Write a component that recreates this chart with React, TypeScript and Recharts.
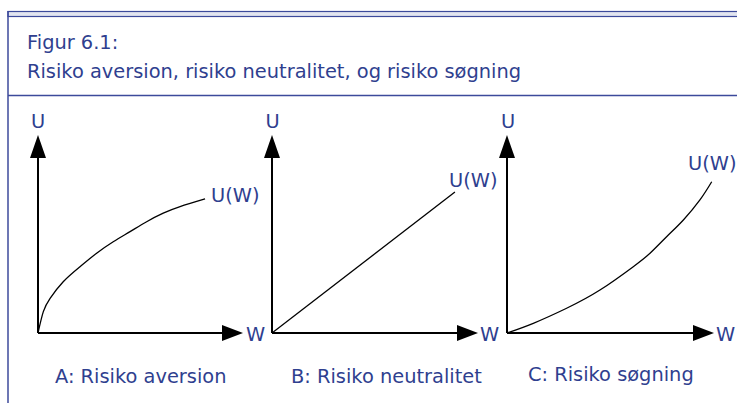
import { LineChart, Line, XAxis, YAxis, ReferenceDot, ReferenceLine } from 'recharts';

// points (W on the x axis, U on the y axis, 0..10 each)
const aversionW = [0, 0.26, 0.59, 1.23, 2.05, 2.86, 3.67, 4.49, 5.3, 6.11, 6.93, 8.15];
const aversionU = [0, 1.08, 1.75, 2.59, 3.35, 4.03, 4.61, 5.12, 5.62, 6.05, 6.38, 6.77];

const neutralW = [0, 8.88];
const neutralU = [0, 7.12];

const seekingW = [0, 1.27, 2.88, 4.49, 6.1, 6.91, 7.71, 8.52, 9.32, 9.89];
const seekingU = [0, 0.49, 1.25, 2.17, 3.35, 4.03, 4.86, 5.71, 6.72, 7.64];

const captions = ['A: Risiko aversion', 'B: Risiko neutralitet', 'C: Risiko søgning'];
const title = ['Figur 6.1:', 'Risiko aversion, risiko neutralitet, og risiko søgning'];

const BLUE = '#2f3f8f';
const BORDER = '#3c4a9b';
const FONT = '"DejaVu Sans", Verdana, sans-serif';

const toRows = (w: number[], u: number[]) => w.map((x, i) => ({ w: x, u: u[i] }));

const RightArrow = (props: any) => {
  const { cx, cy } = props;
  return <path d={`M${cx},${cy} L${cx - 21},${cy - 8} L${cx - 21},${cy + 8} Z`} fill="#000" />;
};

const UpArrow = (props: any) => {
  const { cx, cy } = props;
  return <path d={`M${cx},${cy} L${cx - 8},${cy + 23} L${cx + 8},${cy + 23} Z`} fill="#000" />;
};

interface PanelProps {
  w: number[];
  u: number[];
  left: number;
  marginLeft: number;
  marginRight: number;
  curve: 'natural' | 'linear';
}

function Panel({ w, u, left, marginLeft, marginRight, curve }: PanelProps) {
  return (
    <div style={{ position: 'absolute', left, top: 100 }}>
      <LineChart
        width={260}
        height={250}
        data={toRows(w, u)}
        margin={{ top: 35, left: marginLeft, right: marginRight, bottom: 17 }}
      >
        <XAxis dataKey="w" type="number" domain={[0, 10]} hide />
        <YAxis type="number" domain={[0, 10]} hide />
        <ReferenceLine
          segment={[{ x: 0, y: 0 }, { x: 9, y: 0 }]}
          stroke="#000"
          strokeWidth={2}
          ifOverflow="visible"
        />
        <ReferenceLine
          segment={[{ x: 0, y: 0 }, { x: 0, y: 9 }]}
          stroke="#000"
          strokeWidth={2}
          ifOverflow="visible"
        />
        <Line
          type={curve}
          dataKey="u"
          stroke="#000"
          strokeWidth={1.3}
          dot={false}
          isAnimationActive={false}
        />
        <ReferenceDot x={10} y={0} ifOverflow="visible" shape={RightArrow} />
        <ReferenceDot x={0} y={10} ifOverflow="visible" shape={UpArrow} />
      </LineChart>
    </div>
  );
}

export default function App() {
  const txt = { fill: BLUE, fontFamily: FONT, fontSize: 19.4 };
  return (
    <div style={{ position: 'absolute', left: 0, top: 0, width: 737, height: 403, background: '#fff', overflow: 'hidden' }}>
      <Panel w={aversionW} u={aversionU} left={0} marginLeft={38} marginRight={17} curve="natural" />
      <Panel w={neutralW} u={neutralU} left={235} marginLeft={37} marginRight={17} curve="linear" />
      <Panel w={seekingW} u={seekingU} left={470} marginLeft={37} marginRight={16} curve="natural" />

      <svg width={737} height={403} style={{ position: 'absolute', left: 0, top: 0, pointerEvents: 'none' }}>
        {/* frame */}
        <rect x={8} y={11.5} width={740} height={5} fill="#e2e5f0" stroke={BORDER} strokeWidth={1.2} />
        <line x1={8} y1={11} x2={8} y2={403} stroke={BORDER} strokeWidth={1.5} />
        <line x1={8} y1={95.5} x2={737} y2={95.5} stroke={BORDER} strokeWidth={1.5} />

        <text x={27} y={49} {...txt}>{title[0]}</text>
        <text x={27} y={78} {...txt}>{title[1]}</text>

        {/* panel A */}
        <text x={38} y={128} textAnchor="middle" {...txt}>U</text>
        <text x={211} y={202} {...txt}>U(W)</text>
        <text x={246} y={341} {...txt}>W</text>
        <text x={55} y={383} {...txt}>{captions[0]}</text>

        {/* panel B */}
        <text x={272.5} y={128} textAnchor="middle" {...txt}>U</text>
        <text x={449} y={187} {...txt}>U(W)</text>
        <text x={480} y={341} {...txt}>W</text>
        <text x={291} y={383} {...txt}>{captions[1]}</text>

        {/* panel C */}
        <text x={508} y={128} textAnchor="middle" {...txt}>U</text>
        <text x={688} y={170} {...txt}>U(W)</text>
        <text x={716} y={341} {...txt}>W</text>
        <text x={528} y={381} {...txt}>{captions[2]}</text>
      </svg>
    </div>
  );
}
